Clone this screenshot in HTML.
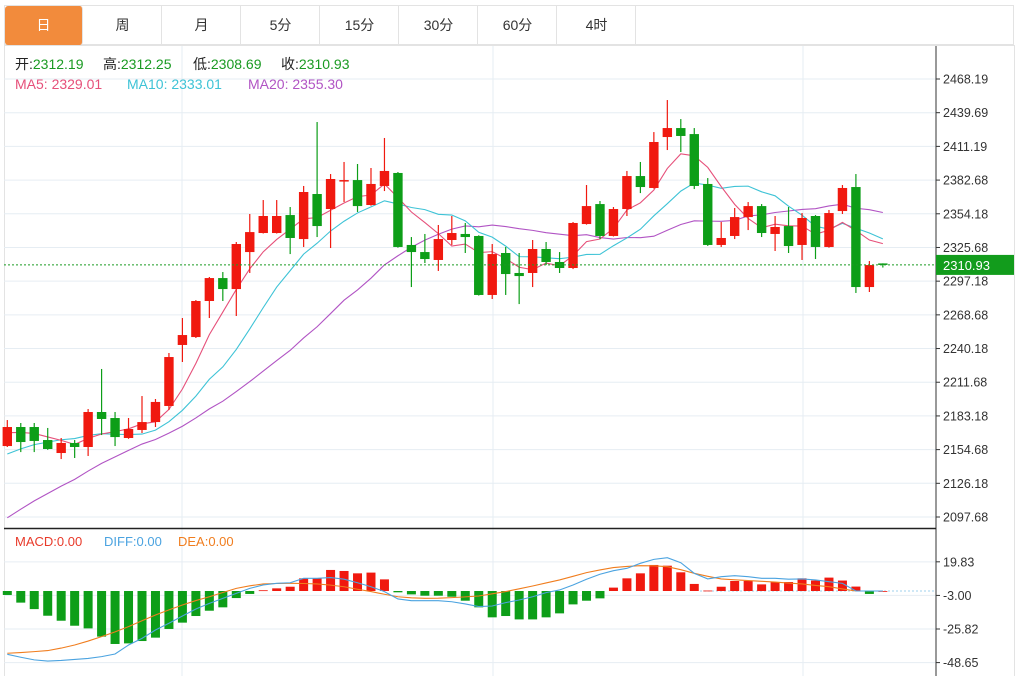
<!DOCTYPE html>
<html><head><meta charset="utf-8"><style>
body{margin:0;background:#fff;font-family:"Liberation Sans","Noto Sans CJK SC",sans-serif;}
#wrap{position:relative;width:1032px;height:676px;overflow:hidden;}
.tabs{position:absolute;left:4px;top:5px;height:40px;width:1010px;border:1px solid #e3e3e3;border-bottom:1px solid #e3e3e3;box-sizing:border-box;}
.tab{position:absolute;top:0;height:39px;width:78px;line-height:39px;text-align:center;font-size:14px;color:#333;border-right:1px solid #e3e3e3;box-sizing:border-box;}
.tab.active{background:#f28b3c;color:#fff;border-radius:3px;}
</style></head><body>
<div id="wrap">
<div class="tabs">
<div class="tab active" style="left:0">日</div>
<div class="tab" style="left:79px">周</div>
<div class="tab" style="left:158px">月</div>
<div class="tab" style="left:237px">5分</div>
<div class="tab" style="left:316px">15分</div>
<div class="tab" style="left:395px">30分</div>
<div class="tab" style="left:474px">60分</div>
<div class="tab" style="left:553px">4时</div>
</div>
<svg id="chart" width="1032" height="676" style="position:absolute;left:0;top:0"></svg>
</div>
<script>
const opens=[2157.7,2173.8,2173.8,2162.8,2151.8,2160.3,2156.9,2186.5,2181.4,2164.5,2171.3,2178.0,2191.6,2243.2,2249.9,2280.4,2299.8,2290.5,2321.8,2337.9,2337.9,2353.1,2332.8,2370.9,2358.2,2381.9,2382.7,2361.6,2377.7,2388.7,2327.8,2321.8,2315.1,2332.0,2337.1,2335.4,2285.5,2321.0,2304.1,2304.1,2324.4,2313.4,2308.3,2345.5,2362.4,2335.4,2358.2,2386.1,2376.0,2419.1,2426.7,2421.6,2379.4,2327.8,2335.4,2351.4,2360.7,2337.1,2343.8,2327.8,2352.3,2326.1,2356.5,2376.8,2292.2,2312.19];
const highs=[2179.7,2177.2,2177.2,2173.0,2164.5,2162.8,2189.0,2222.9,2186.5,2181.4,2200.0,2197.5,2236.4,2266.0,2281.2,2300.7,2304.9,2330.3,2354.0,2365.8,2365.8,2359.9,2377.7,2431.8,2387.8,2398.0,2396.3,2392.9,2418.3,2389.5,2334.5,2337.1,2344.7,2352.3,2346.4,2336.0,2328.6,2326.1,2321.0,2332.0,2330.3,2321.8,2347.2,2378.5,2365.0,2359.9,2390.4,2398.0,2423.3,2450.4,2434.3,2426.7,2384.4,2347.2,2359.1,2364.1,2362.4,2352.3,2359.9,2354.8,2353.1,2357.4,2378.5,2387.8,2314.2,2312.25];
const lows=[2156.9,2152.6,2152.6,2154.5,2146.7,2147.6,2149.3,2167.0,2157.7,2163.8,2168.7,2173.8,2188.2,2228.8,2249.1,2266.0,2280.4,2267.7,2304.1,2337.5,2337.5,2320.1,2326.1,2334.5,2325.2,2364.1,2355.7,2361.0,2373.4,2325.5,2292.2,2312.5,2305.8,2327.8,2321.0,2285.0,2282.1,2285.5,2277.8,2292.2,2310.8,2304.1,2307.4,2345.0,2332.8,2335.0,2352.3,2371.7,2375.5,2408.1,2406.4,2375.1,2327.0,2326.1,2332.8,2340.4,2334.5,2322.7,2321.0,2315.1,2315.9,2325.5,2354.0,2287.2,2288.0,2308.69];
const closes=[2173.8,2161.1,2162.0,2155.2,2160.3,2156.9,2186.5,2180.6,2165.3,2172.1,2178.0,2195.0,2233.0,2251.6,2280.4,2299.8,2290.5,2328.6,2338.7,2352.3,2352.3,2333.7,2372.6,2343.8,2383.6,2382.7,2360.7,2379.4,2390.4,2326.1,2321.8,2315.9,2332.8,2337.9,2334.5,2285.5,2320.1,2303.2,2301.5,2324.4,2313.4,2308.3,2346.4,2360.7,2335.4,2358.2,2386.1,2376.8,2414.9,2426.7,2420.0,2377.7,2327.8,2333.7,2351.4,2360.7,2337.9,2343.0,2326.9,2350.6,2326.1,2354.8,2376.0,2292.2,2310.8,2310.93];
const priorCloses=[2015,2022,2030,2036,2042,2046,2050,2056,2062,2071,2118,2126,2134,2140,2147,2160,2166,2170,2175];
const priceTicks=[2468.19,2439.69,2411.19,2382.68,2354.18,2325.68,2297.18,2268.68,2240.18,2211.68,2183.18,2154.68,2126.18,2097.68];
const macdHist=[-2.7,-7.9,-12.3,-16.8,-20.2,-23.6,-25.4,-31.0,-36.0,-35.6,-34.0,-31.7,-25.8,-21.5,-17.0,-13.4,-11.1,-4.8,-2.0,0.5,1.8,2.9,8.6,8.6,14.3,13.6,12.0,12.5,7.9,-0.9,-2.3,-3.2,-3.2,-3.9,-6.6,-11.1,-17.9,-17.0,-19.3,-19.3,-17.9,-15.2,-9.1,-6.6,-5.0,2.3,8.6,12.0,17.7,17.2,12.7,4.8,0.3,2.9,6.8,6.8,4.5,6.1,6.1,8.6,7.1,9.1,7.1,3.0,-2.0,0];
const diffLine=[-43.0,-45.0,-46.8,-47.6,-47.2,-46.5,-45.8,-44.6,-42.8,-36.7,-32.2,-26.5,-21.9,-17.0,-12.2,-8.4,-5.0,-1.6,1.8,4.1,5.2,5.6,8.6,8.6,9.1,8.0,5.6,2.9,-0.4,-5.4,-6.6,-6.6,-6.6,-7.3,-8.8,-10.6,-10.2,-7.9,-6.1,-3.9,-1.1,0.7,4.1,8.0,11.4,13.8,15.4,18.8,21.5,22.6,19.2,12.0,8.2,9.7,10.4,9.7,8.6,8.6,8.0,8.2,7.5,6.3,5.2,0.0,0.0,0.0];
const deaLine=[-42.3,-41.8,-41.2,-40.5,-38.8,-36.7,-34.0,-31.0,-27.8,-24.2,-20.2,-16.3,-12.8,-9.5,-6.5,-3.9,-1.0,1.8,3.5,4.8,5.1,5.2,5.1,4.8,4.0,2.9,1.2,-0.4,-2.2,-3.9,-4.6,-5.0,-4.9,-4.5,-4.0,-3.4,-1.9,-0.4,1.5,3.4,5.5,7.5,10.0,12.5,14.3,15.9,16.7,17.2,17.1,16.5,14.5,12.0,10.0,8.2,7.6,7.1,6.6,6.1,5.4,4.8,3.8,2.9,1.4,0.0,0.0,0.0];
const macdTicks=[19.83,-3.00,-25.82,-48.65];

const svg=document.getElementById('chart');
const NS='http://www.w3.org/2000/svg';
function mk(tag,attrs,parent){const e=document.createElementNS(NS,tag);for(const k in attrs)e.setAttribute(k,attrs[k]);(parent||svg).appendChild(e);return e;}
const X0=7.3,DX=13.47,LEFT=4,RIGHT=936;
const xOf=i=>X0+DX*i;
const yP=p=>79+(2468.19-p)*(438/370.51);
const yM=v=>591-v*1.4717;
const UP='#f0190f',DN='#0d9e18';

// frame
let f=mk('rect',{x:4.5,y:45.5,width:1010,height:640,fill:'none',stroke:'#e3e3e3'});

// grid
[182,493,803].forEach(x=>{const l=mk('line',{x1:x,x2:x,y1:46,y2:676,stroke:'#e6edf3'});});
priceTicks.forEach(t=>{const y=yP(t);
 const g=mk('line',{x1:LEFT,x2:RIGHT,y1:y,y2:y,stroke:'#e6edf3'});
 mk('line',{x1:RIGHT,x2:RIGHT+4,y1:y,y2:y,stroke:'#333'});
 const tx=mk('text',{x:943,y:y+4.5,'font-size':12.5,fill:'#333','font-family':'Liberation Sans, sans-serif'});tx.textContent=t.toFixed(2);
 });
macdTicks.forEach(t=>{const y=yM(t);
 const g=mk('line',{x1:LEFT,x2:RIGHT,y1:y,y2:y,stroke:'#e6edf3'});
 mk('line',{x1:RIGHT,x2:RIGHT+4,y1:y,y2:y,stroke:'#333'});
 const tx=mk('text',{x:943,y:y+4.5,'font-size':12.5,fill:'#333'});tx.textContent=t.toFixed(2);
 });
// axes
let a=mk('line',{x1:RIGHT,x2:RIGHT,y1:46,y2:676,stroke:'#333'});
let sep=mk('line',{x1:LEFT,x2:RIGHT,y1:528.5,y2:528.5,stroke:'#222','stroke-width':1.5});

// MAs
const allC=priorCloses.concat(closes);
function ma(n){return closes.map((c,i)=>{const j=i+priorCloses.length;let s=0;for(let k=j-n+1;k<=j;k++)s+=allC[k];return s/n;});}
[[20,'#b154c4','ma20-line'],[10,'#3ec3d6','ma10-line'],[5,'#e6507a','ma5-line']].forEach(([n,c,name])=>{
 const v=ma(n);const pl=mk('polyline',{points:v.map((p,i)=>xOf(i)+','+yP(p)).join(' '),fill:'none',stroke:c,'stroke-width':1.1});
 });

// candles
closes.forEach((c,i)=>{const o=opens[i],x=xOf(i),col=c>=o?UP:DN;
 const g=mk('g',{});
 mk('line',{x1:x,x2:x,y1:yP(highs[i]),y2:yP(lows[i]),stroke:col,'stroke-width':1.2},g);
 const t=yP(Math.max(o,c)),b=yP(Math.min(o,c));
 mk('rect',{x:x-4.7,y:t,width:9.4,height:Math.max(1.5,b-t),fill:col},g);});

// last price line
const lp=closes[closes.length-1];
let pl=mk('line',{x1:LEFT,x2:RIGHT,y1:yP(lp),y2:yP(lp),stroke:'#1a9a22','stroke-dasharray':'2,2'});
let lb=mk('rect',{x:936,y:yP(lp)-10,width:78,height:20,fill:'#129c1c'});
let lt=mk('text',{x:943,y:yP(lp)+5,'font-size':13,fill:'#fff'});lt.textContent=lp.toFixed(2);

// MACD
let zl=mk('line',{x1:700,x2:RIGHT,y1:yM(0),y2:yM(0),stroke:'#9fd0ee','stroke-dasharray':'2,2'});
macdHist.forEach((v,i)=>{const x=xOf(i);const y0=yM(0),y1=yM(v);
 const r=mk('rect',{x:x-4.5,y:Math.min(y0,y1),width:9,height:Math.max(0.8,Math.abs(y1-y0)),fill:v>=0?UP:DN});
 });
let dl=mk('polyline',{points:deaLine.map((v,i)=>xOf(i)+','+yM(v)).join(' '),fill:'none',stroke:'#f07d1e','stroke-width':1.1});
let fl=mk('polyline',{points:diffLine.map((v,i)=>xOf(i)+','+yM(v)).join(' '),fill:'none',stroke:'#4ba3e0','stroke-width':1.1});

// legends
function txt(x,y,s,c,name,size){const t=mk('text',{x:x,y:y,'font-size':size||14,fill:c,'font-family':'Liberation Sans, Noto Sans CJK SC, sans-serif'});t.textContent=s;return t;}
const ohlc=[['开:',2312.19,15],['高:',2312.25,103],['低:',2308.69,193],['收:',2310.93,281]];
ohlc.forEach(([l,v,x])=>{const t=txt(x,69,'', '#222','ohlc-legend');t.innerHTML='<tspan fill="#222">'+l+'</tspan><tspan fill="#1a9a22">'+v.toFixed(2)+'</tspan>';});
txt(15,89,'MA5: 2329.01','#e6507a','ma5-legend');
txt(127,89,'MA10: 2333.01','#3ec3d6','ma10-legend');
txt(248,89,'MA20: 2355.30','#b154c4','ma20-legend');
txt(15,546,'MACD:0.00','#e83a2a','macd-legend',13);
txt(104,546,'DIFF:0.00','#4ba3e0','diff-legend',13);
txt(178,546,'DEA:0.00','#f07d1e','dea-legend',13);
</script>
</body></html>
